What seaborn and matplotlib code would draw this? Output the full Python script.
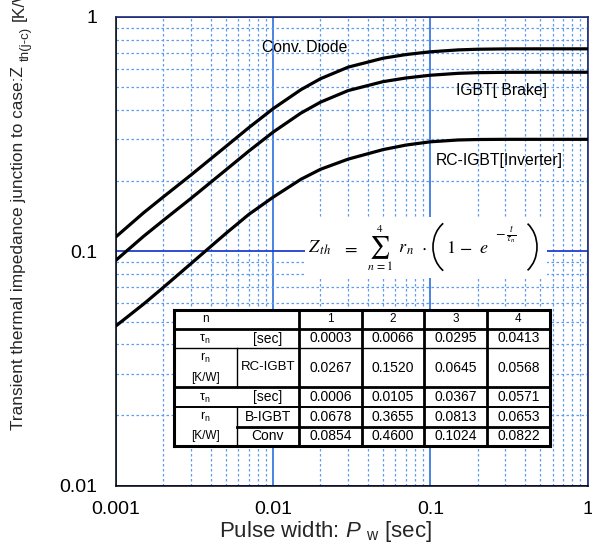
import numpy as np
import pandas as pd
import matplotlib
matplotlib.use("Agg")
import matplotlib.pyplot as plt
import seaborn as sns
from matplotlib.ticker import FixedLocator, FixedFormatter, LogLocator, NullFormatter
from matplotlib.patches import Rectangle, Arc

# ---------------- data ----------------
pulse_width = [0.001, 0.0015, 0.002, 0.003, 0.005, 0.007, 0.01, 0.015, 0.02,
               0.03, 0.05, 0.07, 0.1, 0.15, 0.2, 0.3, 0.5, 1.0]
conv_diode = [0.1152, 0.1459, 0.1704, 0.2114, 0.2796, 0.3365, 0.4056, 0.4885, 0.5442,
              0.6098, 0.6656, 0.6901, 0.7090, 0.7223, 0.7271, 0.7295, 0.7300, 0.7300]
igbt_brake = [0.0915, 0.1158, 0.1353, 0.1679, 0.2221, 0.2673, 0.3222, 0.3881, 0.4323,
              0.4844, 0.5288, 0.5482, 0.5632, 0.5738, 0.5776, 0.5795, 0.5800, 0.5800]
rc_igbt = [0.0480, 0.0595, 0.0700, 0.0885, 0.1190, 0.1435, 0.1700, 0.2025, 0.2235,
           0.2470, 0.2712, 0.2836, 0.2928, 0.2981, 0.2995, 0.3000, 0.3000, 0.3000]
series_names = ["Conv. Diode", "IGBT[ Brake]", "RC-IGBT[Inverter]"]

table_n = ["1", "2", "3", "4"]
tau_rc = ["0.0003", "0.0066", "0.0295", "0.0413"]
r_rc = ["0.0267", "0.1520", "0.0645", "0.0568"]
tau_b = ["0.0006", "0.0105", "0.0367", "0.0571"]
r_b = ["0.0678", "0.3655", "0.0813", "0.0653"]
r_conv = ["0.0854", "0.4600", "0.1024", "0.0822"]

x_ticks = [0.001, 0.01, 0.1, 1]
x_tick_labels = ["0.001", "0.01", "0.1", "1"]
y_ticks = [0.01, 0.1, 1]
y_tick_labels = ["0.01", "0.1", "1"]

# ---------------- style ----------------
sns.set_style("white")
plt.rcParams["font.family"] = ["Liberation Sans", "DejaVu Sans"]
plt.rcParams["mathtext.fontset"] = "custom"
plt.rcParams["mathtext.rm"] = "Liberation Sans"
plt.rcParams["mathtext.it"] = "Liberation Sans:italic"
plt.rcParams["mathtext.bf"] = "Liberation Sans:bold"

W, H = 592, 544
fig = plt.figure(figsize=(W / 100, H / 100), dpi=100)
ax_l, ax_r, ax_t, ax_b = 116, 587.5, 16.8, 485.5
ax = fig.add_axes([ax_l / W, 1 - ax_b / H, (ax_r - ax_l) / W, (ax_b - ax_t) / H])
ax.set_xscale("log")
ax.set_yscale("log")

df = pd.DataFrame({
    "t": pulse_width * 3,
    "Z": conv_diode + igbt_brake + rc_igbt,
    "series": [n for n in series_names for _ in pulse_width],
})
sns.lineplot(data=df, x="t", y="Z", hue="series", palette=["black"] * 3,
             linewidth=2.3, legend=False, estimator=None, sort=False, ax=ax, zorder=4)

ax.set_xlim(0.001, 1)
ax.set_ylim(0.01, 1)
ax.xaxis.set_major_locator(FixedLocator(x_ticks))
ax.xaxis.set_major_formatter(FixedFormatter(x_tick_labels))
ax.yaxis.set_major_locator(FixedLocator(y_ticks))
ax.yaxis.set_major_formatter(FixedFormatter(y_tick_labels))
ax.xaxis.set_minor_locator(LogLocator(base=10, subs=np.arange(2, 10)))
ax.yaxis.set_minor_locator(LogLocator(base=10, subs=np.arange(2, 10)))
ax.xaxis.set_minor_formatter(NullFormatter())
ax.yaxis.set_minor_formatter(NullFormatter())
ax.set_ylabel("")

ax.set_axisbelow(True)
ax.grid(which="minor", axis="both", color="#5b9bf0", linestyle=(0, (2, 2)), linewidth=0.9)
ax.grid(which="major", axis="x", color="#3a7be0", linestyle="-", linewidth=1.3)
ax.grid(which="major", axis="y", color="#1f3fd0", linestyle="-", linewidth=1.3)

ax.tick_params(axis="both", which="major", direction="in", length=4, width=1,
               color="black", labelsize=14, labelcolor="black")
ax.tick_params(axis="y", which="major", pad=13.5)
ax.tick_params(axis="x", which="major", pad=11.5)
ax.tick_params(axis="x", which="minor", length=0)
ax.tick_params(axis="y", which="minor", direction="in", length=4, width=0.8, color="black")

for s in ["left", "bottom"]:
    ax.spines[s].set_color("black")
    ax.spines[s].set_linewidth(1.1)
for s in ["top", "right"]:
    ax.spines[s].set_color("#1f2a70")
    ax.spines[s].set_linewidth(1.2)


def axfrac(px, py):
    return (px - ax_l) / (ax_r - ax_l), 1 - (py - ax_t) / (ax_b - ax_t)


# curve labels
for name, (px, py) in zip(series_names, [(262, 48), (456, 91), (436, 161)]):
    fx, fy = axfrac(px, py)
    ax.text(fx, fy, name, transform=ax.transAxes, ha="left", va="center",
            fontsize=11.3, color="black", zorder=5)

# formula box (white patch hiding the grid) and formula pieces
bx0, by0 = axfrac(305, 278)
bx1, by1 = axfrac(547, 217)
ax.add_patch(Rectangle((bx0, by0), bx1 - bx0, by1 - by0, transform=ax.transAxes,
                       facecolor="white", edgecolor="none", zorder=3))


def ftext(px, py, s, fs, ha="left", va="baseline"):
    fx, fy = axfrac(px, py)
    ax.text(fx, fy, s, transform=ax.transAxes, ha=ha, va=va, fontsize=fs,
            math_fontfamily="stix", zorder=5, color="black")


base = 253
ftext(308, base, r"$Z_{\,th}$", 13)
ftext(342, base, r"$=$", 13)
ftext(380, 248, r"$\sum$", 16, ha="center", va="center")
ftext(380, 228.5, r"$4$", 8, ha="center", va="center")
ftext(380, 267, r"$n\;=1$", 8.5, ha="center", va="center")
ftext(398, base, r"$r_{\,n}$", 13)
ftext(421, base, r"$\cdot$", 13)
ftext(446, base, r"$1$", 13)
ftext(459, base, r"$-$", 13)
ftext(479, base, r"$e$", 13)
ftext(495, 235, r"$-\,\frac{t}{\tau_{\,n}}$", 10, va="center")

ax_w_px, ax_h_px = ax_r - ax_l, ax_b - ax_t
for cx, a, t1, t2 in [(457, 24, 120, 240), (514, 23, -60, 60)]:
    fx, fy = axfrac(cx, 247)
    ax.add_patch(Arc((fx, fy), 2 * a / ax_w_px, 2 * 28.9 / ax_h_px, theta1=t1, theta2=t2,
                     transform=ax.transAxes, color="black", lw=1.2, zorder=5))

# axis labels
ax.set_xlabel(r"Pulse width: $P$ $_{\rm w}$ [sec]", fontsize=16)
ax.xaxis.set_label_coords((325 - ax_l) / (ax_r - ax_l), -(531 - ax_b) / (ax_b - ax_t))
ax.xaxis.label.set_va("center")

renderer = fig.canvas.get_renderer()
ylab_main = fig.text(19 / W, 1 - 430 / H, "Transient thermal impedance junction to case:Z",
                     rotation=90, ha="center", va="bottom", fontsize=12.4)
bb = ylab_main.get_window_extent(renderer)
ylab_sub = fig.text(25.5 / W, (bb.y1 + 5) / H, "th(j-c)",
                    rotation=90, ha="center", va="bottom", fontsize=9.5)
bb2 = ylab_sub.get_window_extent(renderer)
fig.text(19 / W, (bb2.y1 + 6) / H, "[K/W]", rotation=90, ha="center", va="bottom",
         fontsize=12.4)

# ---------------- parameter table ----------------
col_edges = [174, 237, 299, 362, 424, 487, 550]
row_edges = [310, 329, 348, 387, 407, 427, 446]
tax = fig.add_axes([col_edges[0] / W, 1 - row_edges[-1] / H,
                    (col_edges[-1] - col_edges[0]) / W, (row_edges[-1] - row_edges[0]) / H])
tax.set_xlim(col_edges[0], col_edges[-1])
tax.set_ylim(row_edges[-1], row_edges[0])
tax.set_xticks([])
tax.set_yticks([])
tax.set_facecolor("white")
for s in tax.spines.values():
    s.set_visible(False)


def hline(y, x0, x1, lw):
    tax.plot([x0, x1], [y, y], color="black", lw=lw, clip_on=False, solid_capstyle="projecting")


def vline(x, y0, y1, lw):
    tax.plot([x, x], [y0, y1], color="black", lw=lw, clip_on=False, solid_capstyle="projecting")


L, R, T, B = col_edges[0], col_edges[-1], row_edges[0], row_edges[-1]
hline(T, L, R, 2.2); hline(B, L, R, 2.2); vline(L, T, B, 2.2); vline(R, T, B, 2.2)
hline(row_edges[1], L, R, 2.0)
hline(row_edges[2], L, R, 1.0)
hline(row_edges[3], L, R, 2.0)
hline(row_edges[4], L, R, 1.4)
hline(row_edges[5], col_edges[1], R, 2.0)
for x in col_edges[2:6]:
    vline(x, T, B, 2.0)
vline(col_edges[1], row_edges[2], row_edges[3], 1.0)
vline(col_edges[1], row_edges[4], row_edges[6], 1.0)


def rc(i):
    return (row_edges[i] + row_edges[i + 1]) / 2


val_cx = [(col_edges[k] + col_edges[k + 1]) / 2 for k in range(2, 6)]
lab_x, sub_x = 205, 268


def t(x, y, s, fs):
    tax.text(x, y, s, ha="center", va="center", fontsize=fs, color="black")


t(lab_x, rc(0), "n", 8.5)
for cx, s in zip(val_cx, table_n):
    t(cx, rc(0), s, 8.5)

t(lab_x, rc(1) + 1, r"τ$_{\rm n}$", 9)
t(sub_x, rc(1), "[sec]", 10)
for cx, s in zip(val_cx, tau_rc):
    t(cx, rc(1), s, 10)

t(lab_x, 358, r"r$_{\rm n}$", 9)
t(lab_x, 378, "[K/W]", 8.5)
t(sub_x, rc(2), "RC-IGBT", 9.5)
for cx, s in zip(val_cx, r_rc):
    t(cx, rc(2), s, 10)

t(lab_x, rc(3) + 1, r"τ$_{\rm n}$", 9)
t(sub_x, rc(3), "[sec]", 10)
for cx, s in zip(val_cx, tau_b):
    t(cx, rc(3), s, 10)

t(lab_x, rc(4), r"r$_{\rm n}$", 9)
t(sub_x, rc(4), "B-IGBT", 10)
for cx, s in zip(val_cx, r_b):
    t(cx, rc(4), s, 10)

t(lab_x, rc(5), "[K/W]", 8.5)
t(sub_x, rc(5), "Conv", 10)
for cx, s in zip(val_cx, r_conv):
    t(cx, rc(5), s, 10)

fig.savefig("out.png", dpi=100, facecolor="white")
